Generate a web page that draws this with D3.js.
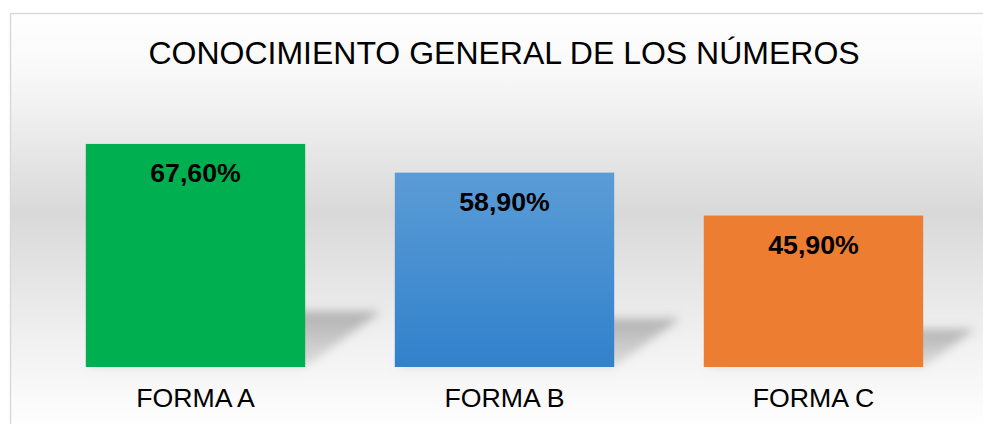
<!DOCTYPE html>
<html lang="es">
<head>
<meta charset="utf-8">
<script src="https://cdn.jsdelivr.net/npm/d3@7"></script>
<style>
    html, body { margin: 0; padding: 0; background: #ffffff; }
    svg { display: block; font-family: "Liberation Sans", Arial, sans-serif; }
</style>
</head>
<body>
<svg id="chart"></svg>
<script>
// Datos del gráfico
const categorias = ['FORMA A', 'FORMA B', 'FORMA C'];
const valores = [67.6, 58.9, 45.9];
const etiquetas = ['67,60%', '58,90%', '45,90%'];
const titulo = 'CONOCIMIENTO GENERAL DE LOS NÚMEROS';

const width = 983;
const height = 424;

const svg = d3.select('#chart')
    .attr('width', width)
    .attr('height', height);

const defs = svg.append('defs');

// Degradado del fondo (blanco -> gris -> blanco)
const fondo = defs.append('linearGradient')
    .attr('id', 'fondo')
    .attr('gradientUnits', 'userSpaceOnUse')
    .attr('x1', 0).attr('y1', 13)
    .attr('x2', 0).attr('y2', 430);
fondo.append('stop').attr('offset', 0).attr('stop-color', '#ffffff');
fondo.append('stop').attr('offset', 0.15).attr('stop-color', '#f8f8f8');
fondo.append('stop').attr('offset', 0.48).attr('stop-color', '#d9d9d9');
fondo.append('stop').attr('offset', 0.78).attr('stop-color', '#f0f0f0');
fondo.append('stop').attr('offset', 1).attr('stop-color', '#ffffff');

// Degradado de la barra azul
const azul = defs.append('linearGradient')
    .attr('id', 'azul')
    .attr('x1', 0).attr('y1', 0)
    .attr('x2', 0).attr('y2', 1);
azul.append('stop').attr('offset', 0).attr('stop-color', '#5b9cd6');
azul.append('stop').attr('offset', 1).attr('stop-color', '#3181cb');

// Degradado de la sombra (más oscura arriba)
const gris = defs.append('linearGradient')
    .attr('id', 'gris')
    .attr('x1', 0).attr('y1', 0)
    .attr('x2', 0).attr('y2', 1);
gris.append('stop').attr('offset', 0).attr('stop-color', '#8a8a8a').attr('stop-opacity', 0.6);
gris.append('stop').attr('offset', 1).attr('stop-color', '#8a8a8a').attr('stop-opacity', 0.2);

// Desenfoque para las sombras
defs.append('filter')
    .attr('id', 'desenfoque')
    .attr('x', '-30%').attr('y', '-60%')
    .attr('width', '160%').attr('height', '220%')
    .append('feGaussianBlur')
    .attr('stdDeviation', 5);

const colores = ['#00b050', 'url(#azul)', '#ed7d31'];

// Área del gráfico con borde
svg.append('rect')
    .attr('x', 10.5)
    .attr('y', 13.5)
    .attr('width', width + 20)
    .attr('height', height + 20)
    .attr('fill', 'url(#fondo)')
    .attr('stroke', '#d9d9d9')
    .attr('stroke-width', 1.5);

// Escalas
const x = d3.scaleBand()
    .domain(categorias)
    .range([41, 968])
    .paddingInner(0.29)
    .paddingOuter(0.145);

const y = d3.scaleLinear()
    .domain([0, 100])
    .range([367, 37]);

const datos = categorias.map((c, i) => ({
    categoria: c,
    valor: valores[i],
    etiqueta: etiquetas[i],
    color: colores[i]
}));

// Sombras en perspectiva (detrás de las barras)
const kx = 0.34;
const ky = 0.25;
svg.append('g')
    .selectAll('path.sombra')
    .data(datos)
    .join('path')
    .attr('class', 'sombra')
    .attr('d', d => {
        const x0 = x(d.categoria);
        const x1 = x0 + x.bandwidth();
        const base = y(0);
        const h = base - y(d.valor);
        return `M ${x0} ${base} L ${x1} ${base}
                L ${x1 + kx * h} ${base - ky * h}
                L ${x0 + kx * h} ${base - ky * h} Z`;
    })
    .attr('fill', 'url(#gris)')
    .attr('filter', 'url(#desenfoque)');

// Barras
svg.append('g')
    .selectAll('rect.barra')
    .data(datos)
    .join('rect')
    .attr('class', 'barra')
    .attr('x', d => x(d.categoria))
    .attr('y', d => y(d.valor))
    .attr('width', x.bandwidth())
    .attr('height', d => y(0) - y(d.valor))
    .attr('fill', d => d.color);

// Etiquetas de datos
svg.append('g')
    .selectAll('text.etiqueta')
    .data(datos)
    .join('text')
    .attr('class', 'etiqueta')
    .attr('x', d => x(d.categoria) + x.bandwidth() / 2)
    .attr('y', d => y(d.valor) + 38)
    .attr('text-anchor', 'middle')
    .attr('font-size', '26.7px')
    .attr('font-weight', 'bold')
    .attr('fill', '#000000')
    .text(d => d.etiqueta);

// Eje de categorías
const ejeX = svg.append('g')
    .attr('transform', `translate(0,${y(0)})`)
    .call(d3.axisBottom(x).tickSize(0).tickPadding(0));
ejeX.select('.domain').remove();
ejeX.selectAll('text')
    .attr('dy', 0)
    .attr('y', 40)
    .attr('font-size', '26.7px')
    .attr('font-family', '"Liberation Sans", Arial, sans-serif')
    .attr('fill', '#000000');

// Título
svg.append('text')
    .attr('x', 504)
    .attr('y', 64)
    .attr('text-anchor', 'middle')
    .attr('font-size', '32px')
    .attr('fill', '#000000')
    .text(titulo);
</script>
</body>
</html>
